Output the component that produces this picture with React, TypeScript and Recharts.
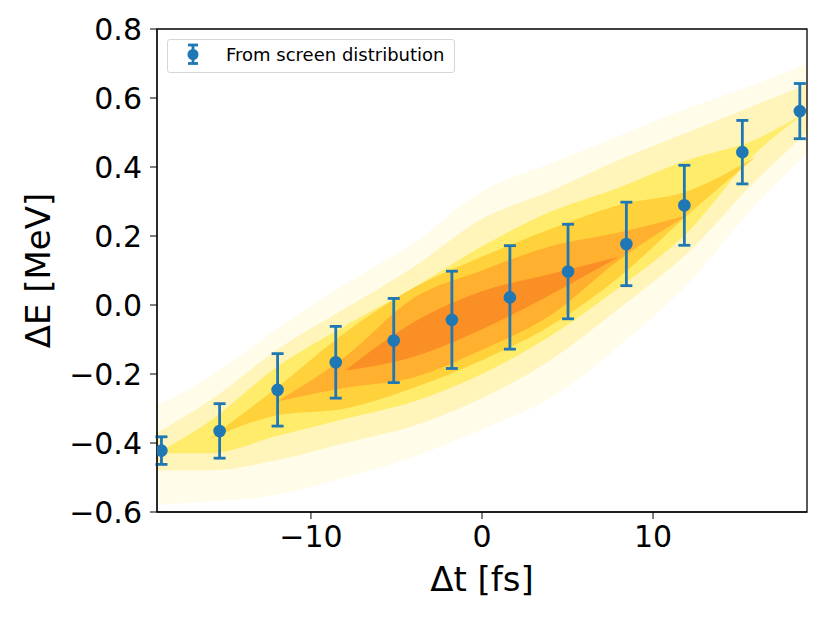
import React from "react";
import {
  ComposedChart,
  Area,
  Scatter,
  ErrorBar,
  XAxis,
  YAxis,
  ReferenceArea,
} from "recharts";

// measured points (Δt in fs, ΔE in MeV, 1σ spread)
const DT = [-18.74, -15.34, -11.95, -8.55, -5.16, -1.76, 1.63, 5.03, 8.44, 11.83, 15.22, 18.58];
const DE = [-0.422, -0.365, -0.246, -0.166, -0.103, -0.043, 0.022, 0.097, 0.177, 0.289, 0.443, 0.562];
const DE_ERR = [0.04, 0.079, 0.105, 0.104, 0.122, 0.141, 0.15, 0.137, 0.121, 0.116, 0.092, 0.08];

// density contours of the screen histogram (null = level not reached)
const GRID_T = [-19, -16, -12, -8, -4, 0, 4, 8, 12, 16, 19];
const L0_LO = [-0.58, -0.57, -0.55, -0.5, -0.44, -0.36, -0.27, -0.12, 0.06, 0.29, 0.44];
const L0_HI = [-0.29, -0.21, -0.07, 0.06, 0.18, 0.33, 0.41, 0.49, 0.57, 0.64, 0.7];
const L1_LO = [-0.48, -0.48, -0.45, -0.4, -0.35, -0.27, -0.16, -0.01, 0.15, 0.36, 0.5];
const L1_HI = [-0.37, -0.28, -0.13, -0.01, 0.11, 0.25, 0.33, 0.42, 0.5, 0.58, 0.64];
const L2_LO = [-0.43, -0.43, -0.38, -0.33, -0.28, -0.2, -0.09, 0.05, 0.21, 0.44, 0.56];
const L2_HI = [-0.43, -0.34, -0.18, -0.06, 0.05, 0.17, 0.27, 0.34, 0.42, 0.48, 0.56];
const L3_LO = [null, -0.39, -0.32, -0.3, -0.24, -0.16, -0.06, 0.08, 0.26, 0.43, null];
const L3_HI = [null, -0.39, -0.24, -0.08, 0.05, 0.14, 0.22, 0.29, 0.33, 0.43, null];
const L4_LO = [null, null, -0.28, -0.24, -0.21, -0.13, -0.03, 0.13, 0.26, null, null];
const L4_HI = [null, null, -0.28, -0.15, 0.02, 0.1, 0.17, 0.21, 0.26, null, null];
const L5_LO = [null, null, null, -0.19, -0.15, -0.07, 0.03, 0.14, null, null, null];
const L5_HI = [null, null, null, -0.19, -0.05, 0.04, 0.09, 0.14, null, null, null];

const X_TICKS = [-10, 0, 10];
const Y_TICKS = [-0.6, -0.4, -0.2, 0, 0.2, 0.4, 0.6, 0.8];

const LEVELS = [
  { lo: L0_LO, hi: L0_HI, color: "#fffcea" },
  { lo: L1_LO, hi: L1_HI, color: "#fff5bb" },
  { lo: L2_LO, hi: L2_HI, color: "#ffec6a" },
  { lo: L3_LO, hi: L3_HI, color: "#ffd23c" },
  { lo: L4_LO, hi: L4_HI, color: "#ffb02e" },
  { lo: L5_LO, hi: L5_HI, color: "#fa8f26" },
];

const BLUE = "#1f77b4";
const FONT = "'DejaVu Sans', sans-serif";

const bands = GRID_T.map((t, i) => {
  const row: Record<string, any> = { t };
  LEVELS.forEach((lv, k) => {
    row[`b${k}`] = [lv.lo[i], lv.hi[i]];
  });
  return row;
});

const points = DT.map((t, i) => ({ t, e: DE[i], err: DE_ERR[i] }));

const minus = (s: string) => s.replace("-", "\u2212");

function Dot(props: any) {
  const { cx, cy } = props;
  if (cx == null || cy == null) return null;
  return <circle cx={cx} cy={cy} r={6.3} fill={BLUE} />;
}

export default function App() {
  return (
    <div style={{ position: "relative", width: 814, height: 606, fontFamily: FONT }}>
      <ComposedChart
        width={814}
        height={606}
        data={bands}
        margin={{ top: 21, right: 15, bottom: 0, left: 0 }}
      >
        <XAxis
          dataKey="t"
          type="number"
          domain={[-19, 19]}
          ticks={X_TICKS}
          allowDataOverflow
          height={102}
          tickSize={7}
          tickMargin={7}
          stroke="#000"
          tick={{ fill: "#000", fontSize: 30, fontFamily: FONT }}
          tickFormatter={(v) => minus(String(v))}
          label={{
            value: "Δt [fs]",
            position: "insideBottom",
            offset: 23,
            fill: "#000",
            fontSize: 34,
            fontFamily: FONT,
          }}
        />
        <YAxis
          type="number"
          domain={[-0.6, 0.8]}
          ticks={Y_TICKS}
          allowDataOverflow
          width={149}
          tickSize={7}
          tickMargin={8}
          stroke="#000"
          tick={{ fill: "#000", fontSize: 30, fontFamily: FONT }}
          tickFormatter={(v) => minus(Number(v).toFixed(1))}
          label={{
            value: "ΔE [MeV]",
            angle: -90,
            position: "insideLeft",
            offset: 30,
            fill: "#000",
            fontSize: 34,
            fontFamily: FONT,
            style: { textAnchor: "middle" },
          }}
        />
        {LEVELS.map((lv, k) => (
          <Area
            key={k}
            dataKey={`b${k}`}
            type="monotone"
            stroke="none"
            fill={lv.color}
            fillOpacity={1}
            connectNulls
            dot={false}
            activeDot={false}
            isAnimationActive={false}
          />
        ))}
        <Scatter data={points} dataKey="e" shape={Dot} isAnimationActive={false}>
          <ErrorBar
            dataKey="err"
            direction="y"
            width={6}
            stroke={BLUE}
            strokeWidth={2.8}
            isAnimationActive={false}
          />
        </Scatter>
        <ReferenceArea
          x1={-19}
          x2={19}
          y1={-0.6}
          y2={0.8}
          fill="none"
          stroke="#000"
          strokeWidth={1.3}
          ifOverflow="extendDomain"
        />
      </ComposedChart>

      <div
        style={{
          position: "absolute",
          left: 158.7,
          top: 31.3,
          width: 286,
          height: 32,
          border: "1px solid #d6d6d6",
          borderRadius: 3,
          background: "rgba(255,255,255,0.8)",
        }}
      >
        <svg width={286} height={32} style={{ position: "absolute", left: 0, top: 0 }}>
          <line x1={25} y1={5} x2={25} y2={23.5} stroke={BLUE} strokeWidth={2.8} />
          <line x1={20} y1={5} x2={30} y2={5} stroke={BLUE} strokeWidth={2.8} />
          <line x1={20} y1={23.5} x2={30} y2={23.5} stroke={BLUE} strokeWidth={2.8} />
          <circle cx={25} cy={14.5} r={5.5} fill={BLUE} />
          <text x={58} y={21.3} fontSize={18} fontFamily={FONT} fill="#000">
            From screen distribution
          </text>
        </svg>
      </div>
    </div>
  );
}
